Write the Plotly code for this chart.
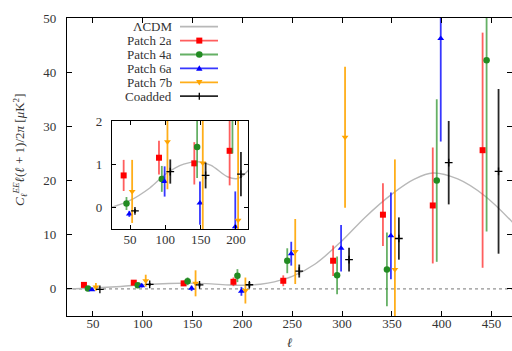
import plotly.graph_objects as go

# ---------------- data ----------------
lcdm_ell = [24, 50, 78, 102, 126, 145, 164, 188, 202, 218, 232, 250, 273, 300, 323, 350, 373, 391, 416, 443, 471]
lcdm_dl = [0.0, 0.16, 0.45, 0.79, 1.0, 1.06, 0.98, 0.71, 0.67, 0.87, 1.3, 2.3, 4.6, 8.9, 13.2, 17.5, 20.3, 21.4, 20.3, 17.2, 12.3]

ell_2a = [41, 91, 141, 191, 241, 291, 341, 391, 441]
dl_2a = [0.74, 1.15, 1.02, 1.31, 1.5, 5.2, 13.7, 15.4, 25.6]
err_2a = [0.36, 0.39, 0.49, 0.8, 1.0, 2.8, 5.8, 10.7, 21.7]

ell_4a = [45, 95, 145, 195, 245, 295, 345, 395, 445]
dl_4a = [0.09, 0.66, 1.4, 2.45, 5.2, 2.5, 3.6, 20.0, 42.2]
err_4a = [0.15, 0.3, 0.72, 1.2, 2.3, 3.5, 6.8, 15.0, 31.6]

ell_6a = [49, 99, 149, 199, 249, 299, 349, 399]
dl_6a = [-0.15, 0.6, 0.1, -0.45, 6.5, 7.5, 9.8, 46.2]
err_6a = [0.07, 0.35, 0.5, 0.82, 2.2, 4.3, 8.0, 19.0]

ell_7b = [53, 103, 153, 203, 253, 303, 353]
dl_7b = [0.37, 1.52, 1.03, -0.3, 6.9, 28.0, 3.6]
err_7b = [0.73, 1.1, 2.4, 2.4, 6.0, 13.0, 20.3]

ell_co = [57, 107, 157, 207, 257, 307, 357, 407, 457]
dl_co = [-0.08, 0.83, 0.74, 0.77, 3.3, 5.4, 9.3, 23.3, 21.7]
err_co = [0.05, 0.28, 0.3, 0.51, 1.2, 2.2, 3.9, 7.7, 15.2]

main_xticks = [50, 100, 150, 200, 250, 300, 350, 400, 450]
main_yticks = [0, 10, 20, 30, 40, 50]
inset_xticks = [50, 100, 150, 200]
inset_yticks = [0, 1, 2]

series = [
    ("Patch 2a", ell_2a, dl_2a, err_2a, "#ff0000", "rgba(255,40,40,0.75)", "square", 6),
    ("Patch 4a", ell_4a, dl_4a, err_4a, "#228b22", "rgba(50,150,50,0.75)", "circle", 6.5),
    ("Patch 6a", ell_6a, dl_6a, err_6a, "#0000ff", "rgba(20,20,255,0.85)", "triangle-up", 6),
    ("Patch 7b", ell_7b, dl_7b, err_7b, "#ffa500", "rgba(255,165,0,0.9)", "triangle-down", 6),
    ("Coadded", ell_co, dl_co, err_co, "#000000", "rgba(0,0,0,0.85)", "cross-thin", 5.5),
]

FONT = "Liberation Serif"
TXT = "#333333"

fig = go.Figure()

for xa, ya in (("x", "y"), ("x2", "y2")):
    fig.add_trace(go.Scatter(x=lcdm_ell, y=lcdm_dl, mode="lines", line=dict(color="#b8b8b8", width=1.4, shape="spline", smoothing=1.0),
                             xaxis=xa, yaxis=ya, showlegend=False, hoverinfo="skip"))
    for name, ex, ey, ee, mcol, ecol, sym, msz in series:
        fig.add_trace(go.Scatter(
            x=ex, y=ey, mode="markers", name=name, xaxis=xa, yaxis=ya, showlegend=False,
            marker=dict(color=mcol, symbol=sym, size=msz, line=dict(color=mcol, width=1.3 if sym == "cross-thin" else 0)),
            error_y=dict(type="data", array=ee, visible=True, color=ecol, thickness=1.8, width=0),
        ))

# dotted zero lines
fig.add_shape(type="line", xref="x domain", yref="y", x0=0, x1=1, y0=0, y1=0,
              line=dict(color="#777777", width=1, dash="dot"), layer="below")
fig.add_shape(type="line", xref="x2 domain", yref="y2", x0=0, x1=1, y0=0, y1=0,
              line=dict(color="#777777", width=1, dash="dot"), layer="below")

# ---------------- manual legend (text left of sample, like gnuplot) ----------------
L0, PW, T0, PH = 67.0, 445.0, 18.0, 298.0
def px(xp):
    return (xp - L0) / PW
def py(yp):
    return (T0 + PH - yp) / PH

rows = [("ΛCDM", "#b8b8b8", None, None)] + [(s[0], s[5], s[4], s[6]) for s in series]
row_y = [26.7, 40.6, 54.5, 68.4, 82.3, 96.2]
for (label, lcol, mcol, sym), ry in zip(rows, row_y):
    fig.add_annotation(xref="paper", yref="paper", x=px(173), y=py(ry), text=label, showarrow=False,
                       xanchor="right", yanchor="middle", borderpad=0, height=13,
                       font=dict(family=FONT, size=13, color=TXT))
    fig.add_shape(type="line", xref="paper", yref="paper", x0=px(180), x1=px(218), y0=py(ry), y1=py(ry),
                  line=dict(color=lcol, width=1.8))
    cx, cy = 199.3, ry
    if sym == "square":
        fig.add_shape(type="rect", xref="paper", yref="paper", x0=px(cx - 3), x1=px(cx + 3), y0=py(cy + 3), y1=py(cy - 3),
                      fillcolor=mcol, line=dict(width=0))
    elif sym == "circle":
        fig.add_shape(type="circle", xref="paper", yref="paper", x0=px(cx - 3.3), x1=px(cx + 3.3), y0=py(cy + 3.3), y1=py(cy - 3.3),
                      fillcolor=mcol, line=dict(width=0))
    elif sym == "triangle-up":
        path = f"M {px(cx-3.2)} {py(cy+2.4)} L {px(cx+3.2)} {py(cy+2.4)} L {px(cx)} {py(cy-3.2)} Z"
        fig.add_shape(type="path", xref="paper", yref="paper", path=path, fillcolor=mcol, line=dict(width=0))
    elif sym == "triangle-down":
        path = f"M {px(cx-3.2)} {py(cy-2.4)} L {px(cx+3.2)} {py(cy-2.4)} L {px(cx)} {py(cy+3.2)} Z"
        fig.add_shape(type="path", xref="paper", yref="paper", path=path, fillcolor=mcol, line=dict(width=0))
    elif sym == "cross-thin":
        fig.add_shape(type="line", xref="paper", yref="paper", x0=px(cx), x1=px(cx), y0=py(cy - 3.5), y1=py(cy + 3.5),
                      line=dict(color=mcol, width=1.3))

# axis titles
fig.add_annotation(xref="paper", yref="paper", x=px(20), y=py(150), textangle=-90, showarrow=False,
                   text="<i>C</i><sub><i>ℓ</i></sub><sup><i>EE</i></sup><i>ℓ</i>(<i>ℓ</i> + 1)/2<i>π</i> [<i>μ</i>K<sup>2</sup>]",
                   font=dict(family=FONT, size=13, color=TXT), xanchor="center", yanchor="middle")
fig.add_annotation(xref="paper", yref="paper", x=0.5, y=py(342), showarrow=False, text="<i>ℓ</i>", borderpad=0, height=14,
                   font=dict(family=FONT, size=13, color=TXT), xanchor="center", yanchor="middle")

axis_common = dict(showline=True, linecolor="black", linewidth=1.4, mirror="ticks", ticks="inside",
                   tickcolor="black", tickwidth=1, showgrid=False, zeroline=False,
                   tickfont=dict(family=FONT, size=13, color=TXT))

fig.update_layout(
    width=512, height=351,
    margin=dict(l=67, r=0, t=18, b=35),
    paper_bgcolor="white", plot_bgcolor="white",
    showlegend=False,
    xaxis=dict(domain=[0, 1], range=[24, 470.5], tickvals=main_xticks, ticklen=5, ticklabelstandoff=-5, **axis_common),
    yaxis=dict(domain=[0, 1], range=[-5, 50], tickvals=main_yticks, ticklen=5, ticklabelstandoff=7, **axis_common),
    xaxis2=dict(domain=[px(112), px(248)], anchor="y2", range=[24.5, 217], tickvals=inset_xticks, ticklen=4, ticklabelstandoff=-2, **axis_common),
    yaxis2=dict(domain=[py(229), py(121)], anchor="x2", range=[-0.5, 2.0], tickvals=inset_yticks, ticklen=4, ticklabelstandoff=6, **axis_common),
)

fig.write_html("out.html")
